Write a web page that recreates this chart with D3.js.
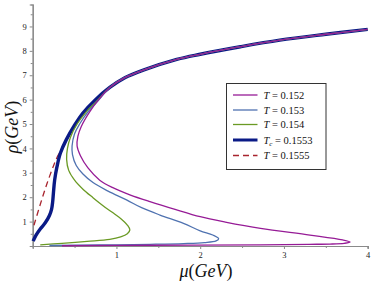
<!DOCTYPE html>
<html>
<head>
<meta charset="utf-8">
<script src="https://cdn.jsdelivr.net/npm/d3@7"></script>
<style>
  body { margin: 0; background: #fff; }
  svg text { font-family: "Liberation Serif", "DejaVu Serif", serif; }
</style>
</head>
<body>
<script>
// curve data, [mu, rho] in GeV
var upperBranch = [[0.92,6.5],[1.1,6.9],[1.32,7.21],[1.72,7.65],[2.0,7.86],[2.48,8.17],[2.95,8.44],[3.5,8.68],[4.0,8.88]];

var curve152 = [[0.35,0.01],[1.4,0.03],[2.72,0.05],[3.3,0.07],[3.55,0.08],[3.72,0.11],[3.79,0.16],[3.7,0.25],
  [3.31,0.45],[2.72,0.72],[2.3,0.98],[2.0,1.2],[1.7,1.5],[1.4,1.82],[1.16,2.1],[0.95,2.4],[0.8,2.7],[0.66,3.2],
  [0.57,3.7],[0.53,4.1],[0.54,4.5],[0.58,4.9],[0.68,5.5],[0.8,6.05]];
var curve153 = [[0.2,0.02],[0.8,0.04],[1.4,0.07],[1.8,0.1],[2.05,0.14],[2.19,0.21],[2.22,0.3],[2.15,0.45],[2.0,0.62],
  [1.8,0.93],[1.52,1.27],[1.3,1.57],[1.12,1.89],[0.9,2.25],[0.72,2.6],[0.6,2.95],[0.52,3.3],[0.475,3.75],[0.47,4.1],
  [0.5,4.6],[0.56,5.0],[0.66,5.5],[0.78,5.95]];
var curve154 = [[0.09,0.05],[0.35,0.11],[0.65,0.19],[0.92,0.27],[1.05,0.37],[1.13,0.5],[1.16,0.66],[1.13,0.86],[1.06,1.1],
  [0.95,1.38],[0.84,1.65],[0.72,1.98],[0.6,2.33],[0.5,2.7],[0.43,3.1],[0.405,3.55],[0.415,4.0],[0.45,4.45],[0.53,5.0],
  [0.64,5.5],[0.76,5.92]];
var curveTc = [[0.005,0.2],[0.04,0.45],[0.09,0.7],[0.15,0.95],[0.2,1.25],[0.225,1.5],[0.238,1.8],[0.248,2.2],[0.262,2.7],
  [0.29,3.25],[0.33,3.8],[0.4,4.35],[0.5,4.95],[0.6,5.45],[0.75,6.0]];
var curve1555 = [[0.015,0.85],[0.09,1.7],[0.17,2.55],[0.25,3.3],[0.3,3.7],[0.34,3.95],[0.4,4.35],[0.5,4.95],[0.6,5.45],[0.75,6.0]];

var legendNames = ["T = 0.152", "T = 0.153", "T = 0.154", "Tc = 0.1553", "T = 0.1555"];
var xTicks = [1, 2, 3, 4];
var yTicks = [1, 2, 3, 4, 5, 6, 7, 8, 9];

// chart frame
var width = 374, height = 283;
var svg = d3.select("body").append("svg")
    .attr("width", width)
    .attr("height", height);

var x = d3.scaleLinear().domain([0, 4]).range([32.7, 367.7]);
var y = d3.scaleLinear().domain([0, 9.9]).range([246, 4.5]);

var line = d3.line()
    .x(function(d){ return x(d[0]); })
    .y(function(d){ return y(d[1]); })
    .curve(d3.curveCatmullRom.alpha(0.5));

// series in legend order
var series = [
    {name: legendNames[0], pts: curve152.concat(upperBranch), color: "#961b96", w: 1.3, dash: null},
    {name: legendNames[1], pts: curve153.concat(upperBranch), color: "#4f72b0", w: 1.3, dash: null},
    {name: legendNames[2], pts: curve154.concat(upperBranch), color: "#6a9a24", w: 1.3, dash: null},
    {name: legendNames[3], pts: curveTc.concat(upperBranch), color: "#0a1a86", w: 3.4, dash: null},
    {name: legendNames[4], pts: curve1555.concat(upperBranch), color: "#a8242e", w: 1.3, dash: "6,4"}
];

// axes
var axisColor = "#8a8a8a";
svg.append("g")
    .attr("transform", "translate(0," + y(0) + ")")
    .call(d3.axisBottom(x).tickValues(xTicks).tickSize(3).tickPadding(3).tickFormat(d3.format("d")));
svg.append("g")
    .attr("transform", "translate(0," + y(0) + ")")
    .call(d3.axisBottom(x).tickValues([0.5, 1.5, 2.5, 3.5]).tickSize(2).tickFormat(""));
svg.append("g")
    .attr("transform", "translate(" + x(0) + ",0)")
    .call(d3.axisLeft(y).tickValues(yTicks).tickSize(3).tickPadding(3).tickFormat(d3.format("d")));
svg.append("g")
    .attr("transform", "translate(" + x(0) + ",0)")
    .call(d3.axisLeft(y).tickValues([0.5,1.5,2.5,3.5,4.5,5.5,6.5,7.5,8.5,9.5]).tickSize(2).tickFormat(""));

svg.selectAll(".domain").attr("stroke", axisColor).attr("stroke-width", 1.2);
svg.selectAll(".tick line").attr("stroke", axisColor);
svg.selectAll(".tick text")
    .attr("fill", "#222")
    .style("font-size", "8.5px")
    .style("font-family", "'Liberation Serif', serif");

// curves, drawn in reverse so the 0.152 curve sits on top
svg.selectAll(".curve")
    .data(series.slice().reverse())
    .enter()
    .append("path")
    .attr("class", "curve")
    .attr("d", function(d){ return line(d.pts); })
    .attr("fill", "none")
    .attr("stroke", function(d){ return d.color; })
    .attr("stroke-width", function(d){ return d.w; })
    .attr("stroke-dasharray", function(d){ return d.dash; })
    .attr("stroke-linejoin", "round");

// axis titles
var xt = svg.append("text")
    .attr("x", 206)
    .attr("y", 277)
    .attr("text-anchor", "middle")
    .style("font-size", "18px")
    .attr("fill", "#111");
xt.append("tspan").style("font-style", "italic").text("μ");
xt.append("tspan").text("(");
xt.append("tspan").style("font-style", "italic").text("GeV");
xt.append("tspan").text(")");

var yt = svg.append("text")
    .attr("transform", "translate(18,127) rotate(-90)")
    .attr("text-anchor", "middle")
    .style("font-size", "18px")
    .attr("fill", "#111");
yt.append("tspan").style("font-style", "italic").text("ρ");
yt.append("tspan").text("(");
yt.append("tspan").style("font-style", "italic").text("GeV");
yt.append("tspan").text(")");

// legend
var legend = svg.append("g");
legend.append("rect")
    .attr("x", 226.5).attr("y", 83.5)
    .attr("width", 99.5).attr("height", 86)
    .attr("fill", "#fff")
    .attr("stroke", "#333")
    .attr("stroke-width", 1);

var rowY = [95, 110, 124.5, 140, 155.5];
series.forEach(function(d, i){
    legend.append("line")
        .attr("x1", 233).attr("x2", 257.5)
        .attr("y1", rowY[i]).attr("y2", rowY[i])
        .attr("stroke", d.color)
        .attr("stroke-width", d.w > 2 ? 3 : 1.3)
        .attr("stroke-dasharray", d.dash);
    var t = legend.append("text")
        .attr("x", 263.5)
        .attr("y", rowY[i] + 3.5)
        .style("font-size", "10.5px")
        .attr("fill", "#111");
    var parts = d.name.split(" = ");
    t.append("tspan").style("font-style", "italic").text(parts[0].charAt(0));
    if (parts[0].length > 1) {
        t.append("tspan").style("font-style", "italic").style("font-size", "7px")
            .attr("dy", 2.5).text(parts[0].slice(1));
        t.append("tspan").attr("dy", -2.5).text(" = " + parts[1]);
    } else {
        t.append("tspan").text(" = " + parts[1]);
    }
});
</script>
</body>
</html>
